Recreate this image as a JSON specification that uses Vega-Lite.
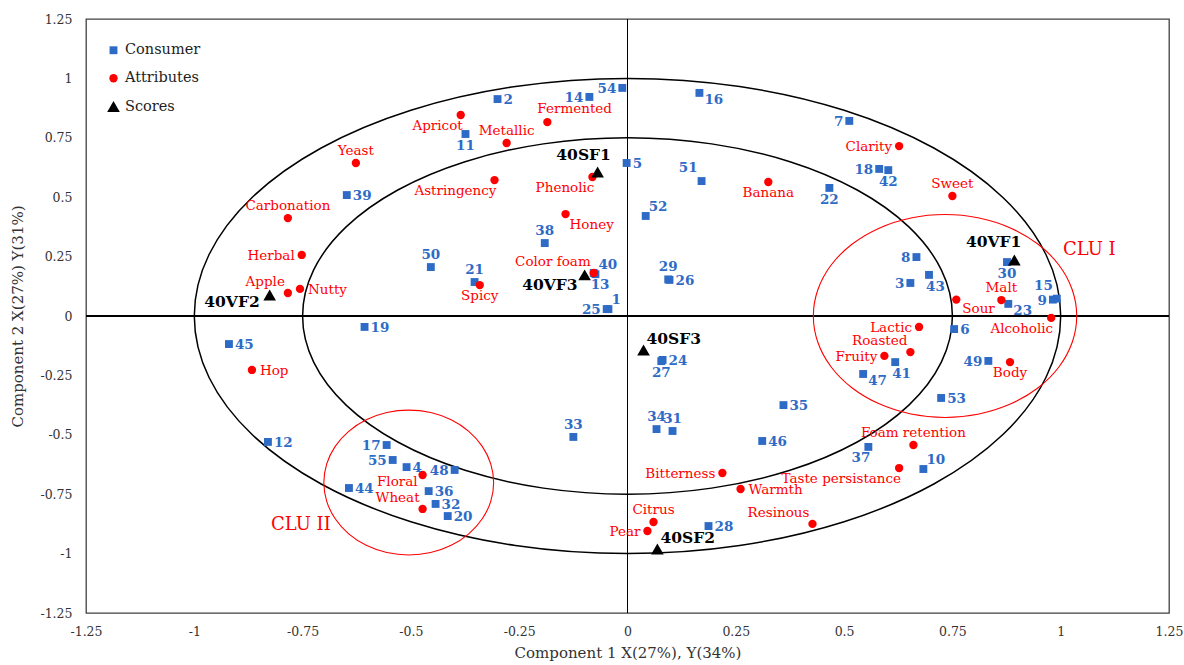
{
"$schema": "https://vega.github.io/schema/vega-lite/v6.json",
"width": 1083, "height": 594,
"autosize": {"type": "none"},
"padding": {"left": 86, "top": 19, "right": 15, "bottom": 52},
"background": "white",
"config": {
 "view": {"stroke": "#404040", "strokeWidth": 1.3},
 "axis": {"domain": false, "ticks": false, "grid": false, "labelFont": "DejaVu Serif", "labelFontSize": 12.5, "labelColor": "#333333", "titleFont": "DejaVu Serif", "titleFontSize": 15, "titleFontWeight": "normal", "titleColor": "#333333", "labelFlush": false, "labelOverlap": false}
},
"datasets": {
 "pts": [
  {"label":"1","type":"Consumer","x":-0.044,"y":0.029,"pos":"tr"},
  {"label":"2","type":"Consumer","x":-0.300,"y":0.913,"pos":"r"},
  {"label":"3","type":"Consumer","x":0.653,"y":0.139,"pos":"l"},
  {"label":"4","type":"Consumer","x":-0.510,"y":-0.636,"pos":"r"},
  {"label":"5","type":"Consumer","x":-0.002,"y":0.644,"pos":"r"},
  {"label":"6","type":"Consumer","x":0.754,"y":-0.055,"pos":"r"},
  {"label":"7","type":"Consumer","x":0.512,"y":0.821,"pos":"l"},
  {"label":"8","type":"Consumer","x":0.667,"y":0.248,"pos":"l"},
  {"label":"9","type":"Consumer","x":0.982,"y":0.069,"pos":"l"},
  {"label":"10","type":"Consumer","x":0.683,"y":-0.644,"pos":"tr"},
  {"label":"11","type":"Consumer","x":-0.374,"y":0.766,"pos":"b"},
  {"label":"12","type":"Consumer","x":-0.830,"y":-0.530,"pos":"r"},
  {"label":"13","type":"Consumer","x":-0.078,"y":0.181,"pos":"br"},
  {"label":"14","type":"Consumer","x":-0.088,"y":0.922,"pos":"l"},
  {"label":"15","type":"Consumer","x":0.991,"y":0.073,"pos":"tl"},
  {"label":"16","type":"Consumer","x":0.166,"y":0.939,"pos":"rb"},
  {"label":"17","type":"Consumer","x":-0.556,"y":-0.543,"pos":"l"},
  {"label":"18","type":"Consumer","x":0.581,"y":0.619,"pos":"l"},
  {"label":"19","type":"Consumer","x":-0.607,"y":-0.046,"pos":"r"},
  {"label":"20","type":"Consumer","x":-0.415,"y":-0.842,"pos":"r"},
  {"label":"21","type":"Consumer","x":-0.353,"y":0.143,"pos":"t"},
  {"label":"22","type":"Consumer","x":0.466,"y":0.539,"pos":"b"},
  {"label":"23","type":"Consumer","x":0.879,"y":0.051,"pos":"rb"},
  {"label":"24","type":"Consumer","x":0.081,"y":-0.185,"pos":"r"},
  {"label":"25","type":"Consumer","x":-0.048,"y":0.029,"pos":"l"},
  {"label":"26","type":"Consumer","x":0.097,"y":0.152,"pos":"r"},
  {"label":"27","type":"Consumer","x":0.078,"y":-0.190,"pos":"b"},
  {"label":"28","type":"Consumer","x":0.187,"y":-0.884,"pos":"r"},
  {"label":"29","type":"Consumer","x":0.094,"y":0.154,"pos":"t"},
  {"label":"30","type":"Consumer","x":0.876,"y":0.227,"pos":"b"},
  {"label":"31","type":"Consumer","x":0.104,"y":-0.484,"pos":"t"},
  {"label":"32","type":"Consumer","x":-0.443,"y":-0.791,"pos":"r"},
  {"label":"33","type":"Consumer","x":-0.125,"y":-0.509,"pos":"t"},
  {"label":"34","type":"Consumer","x":0.067,"y":-0.476,"pos":"t"},
  {"label":"35","type":"Consumer","x":0.360,"y":-0.375,"pos":"r"},
  {"label":"36","type":"Consumer","x":-0.459,"y":-0.737,"pos":"r"},
  {"label":"37","type":"Consumer","x":0.556,"y":-0.551,"pos":"bl"},
  {"label":"38","type":"Consumer","x":-0.191,"y":0.307,"pos":"t"},
  {"label":"39","type":"Consumer","x":-0.648,"y":0.509,"pos":"r"},
  {"label":"40","type":"Consumer","x":-0.074,"y":0.176,"pos":"tr"},
  {"label":"41","type":"Consumer","x":0.618,"y":-0.194,"pos":"br"},
  {"label":"42","type":"Consumer","x":0.602,"y":0.614,"pos":"b"},
  {"label":"43","type":"Consumer","x":0.696,"y":0.173,"pos":"br"},
  {"label":"44","type":"Consumer","x":-0.643,"y":-0.724,"pos":"r"},
  {"label":"45","type":"Consumer","x":-0.920,"y":-0.118,"pos":"r"},
  {"label":"46","type":"Consumer","x":0.311,"y":-0.526,"pos":"r"},
  {"label":"47","type":"Consumer","x":0.544,"y":-0.244,"pos":"rb"},
  {"label":"48","type":"Consumer","x":-0.399,"y":-0.648,"pos":"l"},
  {"label":"49","type":"Consumer","x":0.833,"y":-0.189,"pos":"l"},
  {"label":"50","type":"Consumer","x":-0.454,"y":0.206,"pos":"t"},
  {"label":"51","type":"Consumer","x":0.171,"y":0.568,"pos":"tl"},
  {"label":"52","type":"Consumer","x":0.042,"y":0.421,"pos":"tr"},
  {"label":"53","type":"Consumer","x":0.724,"y":-0.345,"pos":"r"},
  {"label":"54","type":"Consumer","x":-0.012,"y":0.960,"pos":"l"},
  {"label":"55","type":"Consumer","x":-0.542,"y":-0.606,"pos":"l"},
  {"label":"Yeast","type":"Attributes","x":-0.627,"y":0.644,"pos":"t"},
  {"label":"Carbonation","type":"Attributes","x":-0.784,"y":0.412,"pos":"t"},
  {"label":"Herbal","type":"Attributes","x":-0.752,"y":0.257,"pos":"l"},
  {"label":"Apple","type":"Attributes","x":-0.784,"y":0.097,"pos":"tl"},
  {"label":"Nutty","type":"Attributes","x":-0.756,"y":0.114,"pos":"r"},
  {"label":"Hop","type":"Attributes","x":-0.867,"y":-0.227,"pos":"r"},
  {"label":"Floral","type":"Attributes","x":-0.473,"y":-0.669,"pos":"lb"},
  {"label":"Wheat","type":"Attributes","x":-0.473,"y":-0.812,"pos":"tl"},
  {"label":"Bitterness","type":"Attributes","x":0.219,"y":-0.661,"pos":"l"},
  {"label":"Warmth","type":"Attributes","x":0.261,"y":-0.728,"pos":"r"},
  {"label":"Citrus","type":"Attributes","x":0.060,"y":-0.867,"pos":"t"},
  {"label":"Pear","type":"Attributes","x":0.046,"y":-0.905,"pos":"l"},
  {"label":"Resinous","type":"Attributes","x":0.427,"y":-0.875,"pos":"tl"},
  {"label":"Taste persistance","type":"Attributes","x":0.627,"y":-0.640,"pos":"bl"},
  {"label":"Foam retention","type":"Attributes","x":0.660,"y":-0.543,"pos":"t"},
  {"label":"Lactic","type":"Attributes","x":0.673,"y":-0.046,"pos":"l"},
  {"label":"Roasted","type":"Attributes","x":0.653,"y":-0.152,"pos":"tl"},
  {"label":"Fruity","type":"Attributes","x":0.593,"y":-0.168,"pos":"l"},
  {"label":"Body","type":"Attributes","x":0.883,"y":-0.194,"pos":"b"},
  {"label":"Alcoholic","type":"Attributes","x":0.978,"y":-0.008,"pos":"bl"},
  {"label":"Clarity","type":"Attributes","x":0.627,"y":0.715,"pos":"l"},
  {"label":"Sweet","type":"Attributes","x":0.750,"y":0.505,"pos":"t"},
  {"label":"Sour","type":"Attributes","x":0.759,"y":0.069,"pos":"rb"},
  {"label":"Malt","type":"Attributes","x":0.863,"y":0.067,"pos":"t"},
  {"label":"Banana","type":"Attributes","x":0.325,"y":0.564,"pos":"b"},
  {"label":"Apricot","type":"Attributes","x":-0.385,"y":0.846,"pos":"bl"},
  {"label":"Metallic","type":"Attributes","x":-0.279,"y":0.728,"pos":"t"},
  {"label":"Fermented","type":"Attributes","x":-0.185,"y":0.816,"pos":"tr"},
  {"label":"Astringency","type":"Attributes","x":-0.307,"y":0.572,"pos":"bl"},
  {"label":"Phenolic","type":"Attributes","x":-0.081,"y":0.585,"pos":"bl"},
  {"label":"Honey","type":"Attributes","x":-0.143,"y":0.429,"pos":"br"},
  {"label":"Color foam","type":"Attributes","x":-0.078,"y":0.181,"pos":"tl"},
  {"label":"Spicy","type":"Attributes","x":-0.341,"y":0.130,"pos":"b"},
  {"label":"40VF2","type":"Scores","x":-0.826,"y":0.088,"pos":"l"},
  {"label":"40SF1","type":"Scores","x":-0.069,"y":0.606,"pos":"t"},
  {"label":"40VF3","type":"Scores","x":-0.099,"y":0.173,"pos":"bl"},
  {"label":"40SF3","type":"Scores","x":0.037,"y":-0.143,"pos":"tr"},
  {"label":"40SF2","type":"Scores","x":0.069,"y":-0.981,"pos":"tr"},
  {"label":"40VF1","type":"Scores","x":0.893,"y":0.236,"pos":"tl"}
 ],
 "rings": [
  {"ring":"r1","i":0,"x":1,"y":0},{"ring":"r1","i":1,"x":0.96593,"y":0.25882},{"ring":"r1","i":2,"x":0.86603,"y":0.5},{"ring":"r1","i":3,"x":0.70711,"y":0.70711},{"ring":"r1","i":4,"x":0.5,"y":0.86603},{"ring":"r1","i":5,"x":0.25882,"y":0.96593},{"ring":"r1","i":6,"x":0,"y":1},{"ring":"r1","i":7,"x":-0.25882,"y":0.96593},{"ring":"r1","i":8,"x":-0.5,"y":0.86603},{"ring":"r1","i":9,"x":-0.70711,"y":0.70711},{"ring":"r1","i":10,"x":-0.86603,"y":0.5},{"ring":"r1","i":11,"x":-0.96593,"y":0.25882},{"ring":"r1","i":12,"x":-1,"y":0},{"ring":"r1","i":13,"x":-0.96593,"y":-0.25882},{"ring":"r1","i":14,"x":-0.86603,"y":-0.5},{"ring":"r1","i":15,"x":-0.70711,"y":-0.70711},{"ring":"r1","i":16,"x":-0.5,"y":-0.86603},{"ring":"r1","i":17,"x":-0.25882,"y":-0.96593},{"ring":"r1","i":18,"x":0,"y":-1},{"ring":"r1","i":19,"x":0.25882,"y":-0.96593},{"ring":"r1","i":20,"x":0.5,"y":-0.86603},{"ring":"r1","i":21,"x":0.70711,"y":-0.70711},{"ring":"r1","i":22,"x":0.86603,"y":-0.5},{"ring":"r1","i":23,"x":0.96593,"y":-0.25882},
  {"ring":"r2","i":0,"x":0.75,"y":0},{"ring":"r2","i":1,"x":0.72445,"y":0.19412},{"ring":"r2","i":2,"x":0.64952,"y":0.375},{"ring":"r2","i":3,"x":0.53033,"y":0.53033},{"ring":"r2","i":4,"x":0.375,"y":0.64952},{"ring":"r2","i":5,"x":0.19412,"y":0.72445},{"ring":"r2","i":6,"x":0,"y":0.75},{"ring":"r2","i":7,"x":-0.19412,"y":0.72445},{"ring":"r2","i":8,"x":-0.375,"y":0.64952},{"ring":"r2","i":9,"x":-0.53033,"y":0.53033},{"ring":"r2","i":10,"x":-0.64952,"y":0.375},{"ring":"r2","i":11,"x":-0.72445,"y":0.19412},{"ring":"r2","i":12,"x":-0.75,"y":0},{"ring":"r2","i":13,"x":-0.72445,"y":-0.19412},{"ring":"r2","i":14,"x":-0.64952,"y":-0.375},{"ring":"r2","i":15,"x":-0.53033,"y":-0.53033},{"ring":"r2","i":16,"x":-0.375,"y":-0.64952},{"ring":"r2","i":17,"x":-0.19412,"y":-0.72445},{"ring":"r2","i":18,"x":0,"y":-0.75},{"ring":"r2","i":19,"x":0.19412,"y":-0.72445},{"ring":"r2","i":20,"x":0.375,"y":-0.64952},{"ring":"r2","i":21,"x":0.53033,"y":-0.53033},{"ring":"r2","i":22,"x":0.64952,"y":-0.375},{"ring":"r2","i":23,"x":0.72445,"y":-0.19412},
  {"ring":"clu1","i":0,"x":1.037,"y":0},{"ring":"clu1","i":1,"x":1.02664,"y":0.11052},{"ring":"clu1","i":2,"x":0.99627,"y":0.2135},{"ring":"clu1","i":3,"x":0.94796,"y":0.30194},{"ring":"clu1","i":4,"x":0.885,"y":0.36979},{"ring":"clu1","i":5,"x":0.81168,"y":0.41245},{"ring":"clu1","i":6,"x":0.733,"y":0.427},{"ring":"clu1","i":7,"x":0.65432,"y":0.41245},{"ring":"clu1","i":8,"x":0.581,"y":0.36979},{"ring":"clu1","i":9,"x":0.51804,"y":0.30194},{"ring":"clu1","i":10,"x":0.46973,"y":0.2135},{"ring":"clu1","i":11,"x":0.43936,"y":0.11052},{"ring":"clu1","i":12,"x":0.429,"y":0},{"ring":"clu1","i":13,"x":0.43936,"y":-0.11052},{"ring":"clu1","i":14,"x":0.46973,"y":-0.2135},{"ring":"clu1","i":15,"x":0.51804,"y":-0.30194},{"ring":"clu1","i":16,"x":0.581,"y":-0.36979},{"ring":"clu1","i":17,"x":0.65432,"y":-0.41245},{"ring":"clu1","i":18,"x":0.733,"y":-0.427},{"ring":"clu1","i":19,"x":0.81168,"y":-0.41245},{"ring":"clu1","i":20,"x":0.885,"y":-0.36979},{"ring":"clu1","i":21,"x":0.94796,"y":-0.30194},{"ring":"clu1","i":22,"x":0.99627,"y":-0.2135},{"ring":"clu1","i":23,"x":1.02664,"y":-0.11052},
  {"ring":"clu2","i":0,"x":-0.309,"y":-0.701},{"ring":"clu2","i":1,"x":-0.31568,"y":-0.62206},{"ring":"clu2","i":2,"x":-0.33526,"y":-0.5485},{"ring":"clu2","i":3,"x":-0.36641,"y":-0.48533},{"ring":"clu2","i":4,"x":-0.407,"y":-0.43686},{"ring":"clu2","i":5,"x":-0.45427,"y":-0.40639},{"ring":"clu2","i":6,"x":-0.505,"y":-0.396},{"ring":"clu2","i":7,"x":-0.55573,"y":-0.40639},{"ring":"clu2","i":8,"x":-0.603,"y":-0.43686},{"ring":"clu2","i":9,"x":-0.64359,"y":-0.48533},{"ring":"clu2","i":10,"x":-0.67474,"y":-0.5485},{"ring":"clu2","i":11,"x":-0.69432,"y":-0.62206},{"ring":"clu2","i":12,"x":-0.701,"y":-0.701},{"ring":"clu2","i":13,"x":-0.69432,"y":-0.77994},{"ring":"clu2","i":14,"x":-0.67474,"y":-0.8535},{"ring":"clu2","i":15,"x":-0.64359,"y":-0.91667},{"ring":"clu2","i":16,"x":-0.603,"y":-0.96514},{"ring":"clu2","i":17,"x":-0.55573,"y":-0.99561},{"ring":"clu2","i":18,"x":-0.505,"y":-1.006},{"ring":"clu2","i":19,"x":-0.45427,"y":-0.99561},{"ring":"clu2","i":20,"x":-0.407,"y":-0.96514},{"ring":"clu2","i":21,"x":-0.36641,"y":-0.91667},{"ring":"clu2","i":22,"x":-0.33526,"y":-0.8535},{"ring":"clu2","i":23,"x":-0.31568,"y":-0.77994}
 ],
 "ticks": [{"v":-1},{"v":-0.75},{"v":-0.5},{"v":-0.25},{"v":0.25},{"v":0.5},{"v":0.75},{"v":1}],
 "notes": [{"label":"CLU I","x":1.066,"y":0.278},{"label":"CLU II","x":-0.754,"y":-0.880}]
},
"data": {"name": "pts"},
"encoding": {
 "x": {"field": "x", "type": "quantitative", "scale": {"domain": [-1.25, 1.25], "nice": false, "zero": false},
  "axis": {"values": [-1.25,-1,-0.75,-0.5,-0.25,0,0.25,0.5,0.75,1,1.25], "labelExpr": "'' + datum.value", "title": "Component 1 X(27%), Y(34%)", "labelPadding": 12, "titlePadding": 8}},
 "y": {"field": "y", "type": "quantitative", "scale": {"domain": [-1.25, 1.25], "nice": false, "zero": false},
  "axis": {"values": [-1.25,-1,-0.75,-0.5,-0.25,0,0.25,0.5,0.75,1,1.25], "labelExpr": "'' + datum.value", "title": "Component 2 X(27%) Y(31%)", "labelPadding": 14, "titlePadding": 14}}
},
"layer": [
 {"mark": {"type": "rule", "color": "#000000", "strokeWidth": 1}, "encoding": {"y": {"datum": 0}, "x": {"datum": -1.25}, "x2": {"datum": 1.25}}},
 {"mark": {"type": "rule", "color": "#000000", "strokeWidth": 1}, "encoding": {"x": {"datum": 0}, "y": {"datum": -1.25}, "y2": {"datum": 1.25}}},
 {"data": {"name": "ticks"}, "mark": {"type": "rule", "color": "#000000", "strokeWidth": 1},
  "encoding": {"x": {"field": "v", "type": "quantitative", "scale": {"domain": [-1.25, 1.25], "nice": false, "zero": false}}, "y": {"datum": 0}, "y2": {"datum": 0.02}}},
 {"data": {"name": "ticks"}, "mark": {"type": "rule", "color": "#000000", "strokeWidth": 1},
  "encoding": {"y": {"field": "v", "type": "quantitative", "scale": {"domain": [-1.25, 1.25], "nice": false, "zero": false}}, "x": {"datum": 0}, "x2": {"datum": 0.011}}},
 {"data": {"name": "rings"}, "transform": [{"filter": "datum.ring === 'r1' || datum.ring === 'r2'"}],
  "mark": {"type": "line", "interpolate": "cardinal-closed", "color": "#000000", "strokeWidth": 1.5},
  "encoding": {"detail": {"field": "ring"}, "order": {"field": "i", "type": "quantitative"}}},
 {"data": {"name": "rings"}, "transform": [{"filter": "datum.ring === 'clu1' || datum.ring === 'clu2'"}],
  "mark": {"type": "line", "interpolate": "cardinal-closed", "color": "#FF0000", "strokeWidth": 1.1},
  "encoding": {"detail": {"field": "ring"}, "order": {"field": "i", "type": "quantitative"}}},
 {"mark": {"type": "point", "filled": true, "opacity": 1, "strokeWidth": 0},
  "encoding": {
   "shape": {"field": "type", "type": "nominal", "scale": {"domain": ["Consumer","Attributes","Scores"], "range": ["square","circle","triangle-up"]},
     "legend": {"title": null, "orient": "none", "legendX": 20, "legendY": 24, "labelFont": "DejaVu Serif", "labelFontSize": 14.5, "labelColor": "#222222", "rowPadding": 13, "labelOffset": 4, "padding": 0}},
   "color": {"field": "type", "type": "nominal", "scale": {"domain": ["Consumer","Attributes","Scores"], "range": ["#2E6BC6","#FF0000","#000000"]},
     "legend": {"title": null, "orient": "none", "legendX": 20, "legendY": 24, "labelFont": "DejaVu Serif", "labelFontSize": 14.5, "labelColor": "#222222", "rowPadding": 13, "labelOffset": 4, "padding": 0}},
   "size": {"field": "type", "type": "nominal", "scale": {"type": "ordinal", "domain": ["Consumer","Attributes","Scores"], "range": [62, 70, 160]},
     "legend": {"title": null, "orient": "none", "legendX": 20, "legendY": 24, "labelFont": "DejaVu Serif", "labelFontSize": 14.5, "labelColor": "#222222", "rowPadding": 13, "labelOffset": 4, "padding": 0}}
  }},
 {"transform": [{"filter": "datum.type === 'Consumer' && datum.pos === 'r'"}], "mark": {"type": "text", "font": "DejaVu Serif", "fontWeight": "bold", "fontSize": 13.5, "color": "#2E6BC6", "align": "left", "baseline": "middle", "dx": 6, "dy": 1}, "encoding": {"text": {"field": "label"}}},
 {"transform": [{"filter": "datum.type === 'Consumer' && datum.pos === 'l'"}], "mark": {"type": "text", "font": "DejaVu Serif", "fontWeight": "bold", "fontSize": 13.5, "color": "#2E6BC6", "align": "right", "baseline": "middle", "dx": -6, "dy": 1}, "encoding": {"text": {"field": "label"}}},
 {"transform": [{"filter": "datum.type === 'Consumer' && datum.pos === 't'"}], "mark": {"type": "text", "font": "DejaVu Serif", "fontWeight": "bold", "fontSize": 13.5, "color": "#2E6BC6", "align": "center", "baseline": "alphabetic", "dx": 0, "dy": -8}, "encoding": {"text": {"field": "label"}}},
 {"transform": [{"filter": "datum.type === 'Consumer' && datum.pos === 'b'"}], "mark": {"type": "text", "font": "DejaVu Serif", "fontWeight": "bold", "fontSize": 13.5, "color": "#2E6BC6", "align": "center", "baseline": "top", "dx": 0, "dy": 5}, "encoding": {"text": {"field": "label"}}},
 {"transform": [{"filter": "datum.type === 'Consumer' && datum.pos === 'tr'"}], "mark": {"type": "text", "font": "DejaVu Serif", "fontWeight": "bold", "fontSize": 13.5, "color": "#2E6BC6", "align": "left", "baseline": "alphabetic", "dx": 3, "dy": -5}, "encoding": {"text": {"field": "label"}}},
 {"transform": [{"filter": "datum.type === 'Consumer' && datum.pos === 'tl'"}], "mark": {"type": "text", "font": "DejaVu Serif", "fontWeight": "bold", "fontSize": 13.5, "color": "#2E6BC6", "align": "right", "baseline": "alphabetic", "dx": -4, "dy": -9}, "encoding": {"text": {"field": "label"}}},
 {"transform": [{"filter": "datum.type === 'Consumer' && datum.pos === 'br'"}], "mark": {"type": "text", "font": "DejaVu Serif", "fontWeight": "bold", "fontSize": 13.5, "color": "#2E6BC6", "align": "left", "baseline": "top", "dx": -3, "dy": 5}, "encoding": {"text": {"field": "label"}}},
 {"transform": [{"filter": "datum.type === 'Consumer' && datum.pos === 'bl'"}], "mark": {"type": "text", "font": "DejaVu Serif", "fontWeight": "bold", "fontSize": 13.5, "color": "#2E6BC6", "align": "right", "baseline": "top", "dx": 2, "dy": 4}, "encoding": {"text": {"field": "label"}}},
 {"transform": [{"filter": "datum.type === 'Consumer' && datum.pos === 'rb'"}], "mark": {"type": "text", "font": "DejaVu Serif", "fontWeight": "bold", "fontSize": 13.5, "color": "#2E6BC6", "align": "left", "baseline": "top", "dx": 5, "dy": 0}, "encoding": {"text": {"field": "label"}}},
 {"transform": [{"filter": "datum.type === 'Attributes' && datum.pos === 'r'"}], "mark": {"type": "text", "font": "DejaVu Serif", "fontSize": 13.5, "color": "#FF0000", "align": "left", "baseline": "middle", "dx": 8, "dy": 1}, "encoding": {"text": {"field": "label"}}},
 {"transform": [{"filter": "datum.type === 'Attributes' && datum.pos === 'l'"}], "mark": {"type": "text", "font": "DejaVu Serif", "fontSize": 13.5, "color": "#FF0000", "align": "right", "baseline": "middle", "dx": -7, "dy": 1}, "encoding": {"text": {"field": "label"}}},
 {"transform": [{"filter": "datum.type === 'Attributes' && datum.pos === 'lb'"}], "mark": {"type": "text", "font": "DejaVu Serif", "fontSize": 13.5, "color": "#FF0000", "align": "right", "baseline": "middle", "dx": -5, "dy": 7}, "encoding": {"text": {"field": "label"}}},
 {"transform": [{"filter": "datum.type === 'Attributes' && datum.pos === 't'"}], "mark": {"type": "text", "font": "DejaVu Serif", "fontSize": 13.5, "color": "#FF0000", "align": "center", "baseline": "alphabetic", "dx": 0, "dy": -8}, "encoding": {"text": {"field": "label"}}},
 {"transform": [{"filter": "datum.type === 'Attributes' && datum.pos === 'b'"}], "mark": {"type": "text", "font": "DejaVu Serif", "fontSize": 13.5, "color": "#FF0000", "align": "center", "baseline": "top", "dx": 0, "dy": 4}, "encoding": {"text": {"field": "label"}}},
 {"transform": [{"filter": "datum.type === 'Attributes' && datum.pos === 'tr'"}], "mark": {"type": "text", "font": "DejaVu Serif", "fontSize": 13.5, "color": "#FF0000", "align": "left", "baseline": "alphabetic", "dx": -10, "dy": -9}, "encoding": {"text": {"field": "label"}}},
 {"transform": [{"filter": "datum.type === 'Attributes' && datum.pos === 'tl'"}], "mark": {"type": "text", "font": "DejaVu Serif", "fontSize": 13.5, "color": "#FF0000", "align": "right", "baseline": "alphabetic", "dx": -3, "dy": -7}, "encoding": {"text": {"field": "label"}}},
 {"transform": [{"filter": "datum.type === 'Attributes' && datum.pos === 'br'"}], "mark": {"type": "text", "font": "DejaVu Serif", "fontSize": 13.5, "color": "#FF0000", "align": "left", "baseline": "top", "dx": 4, "dy": 4}, "encoding": {"text": {"field": "label"}}},
 {"transform": [{"filter": "datum.type === 'Attributes' && datum.pos === 'bl'"}], "mark": {"type": "text", "font": "DejaVu Serif", "fontSize": 13.5, "color": "#FF0000", "align": "right", "baseline": "top", "dx": 2, "dy": 4}, "encoding": {"text": {"field": "label"}}},
 {"transform": [{"filter": "datum.type === 'Attributes' && datum.pos === 'rb'"}], "mark": {"type": "text", "font": "DejaVu Serif", "fontSize": 13.5, "color": "#FF0000", "align": "left", "baseline": "top", "dx": 6, "dy": 2}, "encoding": {"text": {"field": "label"}}},
 {"transform": [{"filter": "datum.type === 'Scores' && datum.pos === 't'"}], "mark": {"type": "text", "font": "DejaVu Serif", "fontWeight": "bold", "fontSize": 15.5, "color": "#000000", "align": "center", "baseline": "alphabetic", "dx": -14, "dy": -12}, "encoding": {"text": {"field": "label"}}},
 {"transform": [{"filter": "datum.type === 'Scores' && datum.pos === 'tl'"}], "mark": {"type": "text", "font": "DejaVu Serif", "fontWeight": "bold", "fontSize": 15.5, "color": "#000000", "align": "right", "baseline": "alphabetic", "dx": 7, "dy": -13}, "encoding": {"text": {"field": "label"}}},
 {"transform": [{"filter": "datum.type === 'Scores' && datum.pos === 'tr'"}], "mark": {"type": "text", "font": "DejaVu Serif", "fontWeight": "bold", "fontSize": 15.5, "color": "#000000", "align": "left", "baseline": "alphabetic", "dx": 3, "dy": -6}, "encoding": {"text": {"field": "label"}}},
 {"transform": [{"filter": "datum.type === 'Scores' && datum.pos === 'l'"}], "mark": {"type": "text", "font": "DejaVu Serif", "fontWeight": "bold", "fontSize": 15.5, "color": "#000000", "align": "right", "baseline": "middle", "dx": -10, "dy": 7}, "encoding": {"text": {"field": "label"}}},
 {"transform": [{"filter": "datum.type === 'Scores' && datum.pos === 'bl'"}], "mark": {"type": "text", "font": "DejaVu Serif", "fontWeight": "bold", "fontSize": 15.5, "color": "#000000", "align": "right", "baseline": "top", "dx": -7, "dy": 3}, "encoding": {"text": {"field": "label"}}},
 {"data": {"name": "notes"}, "mark": {"type": "text", "font": "DejaVu Serif", "fontSize": 18, "color": "#FF0000", "align": "center", "baseline": "middle"}, "encoding": {"text": {"field": "label"}}}
]
}
